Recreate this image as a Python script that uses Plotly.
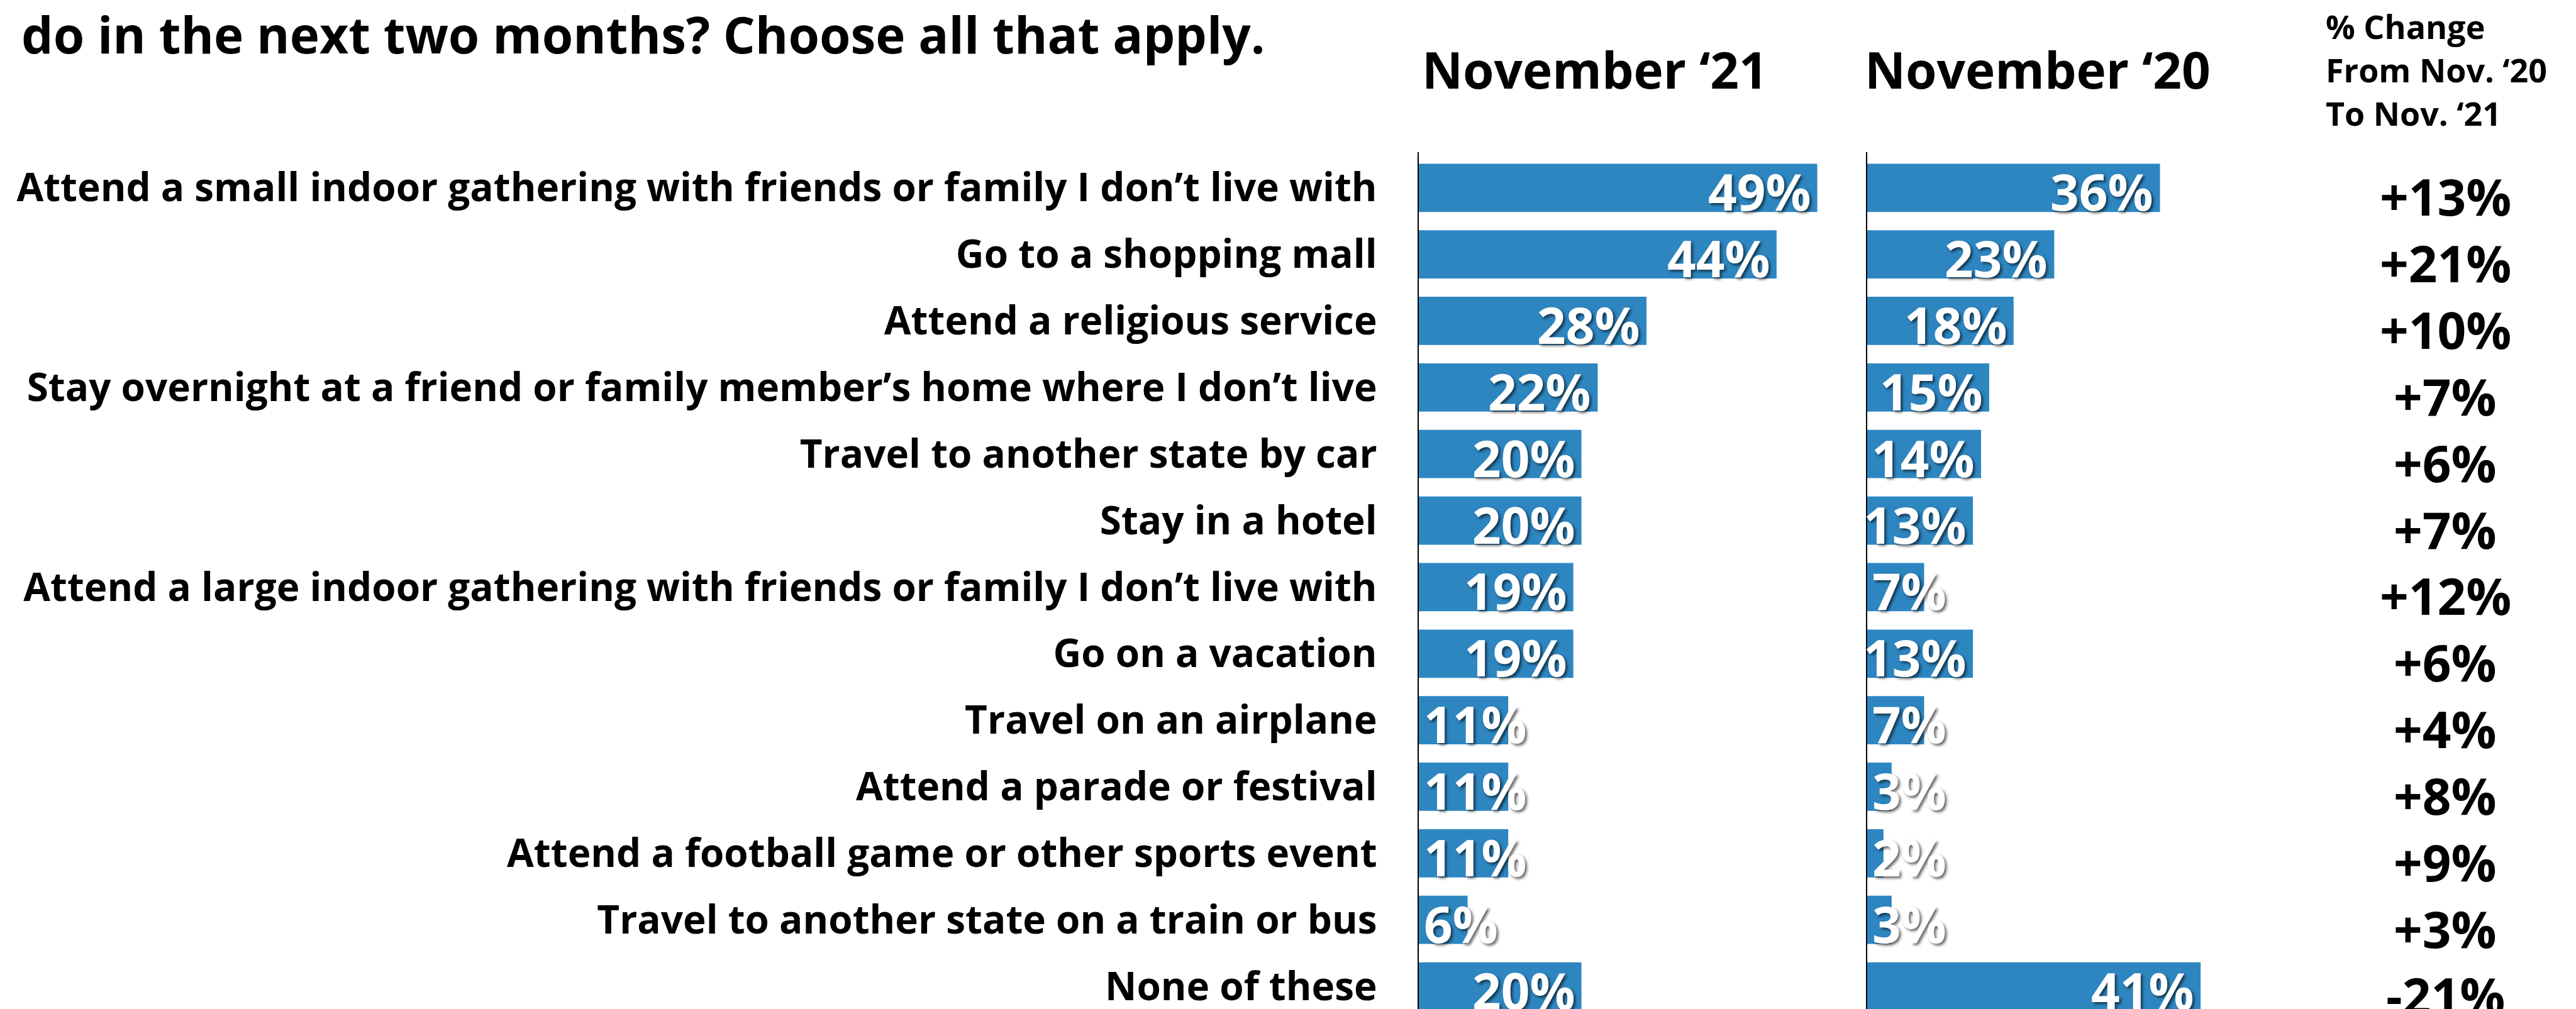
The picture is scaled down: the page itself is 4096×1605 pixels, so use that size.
import plotly.graph_objects as go

# ---------------- data ----------------
categories = [
    "Attend a small indoor gathering with friends or family I don’t live with",
    "Go to a shopping mall",
    "Attend a religious service",
    "Stay overnight at a friend or family member’s home where I don’t live",
    "Travel to another state by car",
    "Stay in a hotel",
    "Attend a large indoor gathering with friends or family I don’t live with",
    "Go on a vacation",
    "Travel on an airplane",
    "Attend a parade or festival",
    "Attend a football game or other sports event",
    "Travel to another state on a train or bus",
    "None of these",
]
nov21 = [49, 44, 28, 22, 20, 20, 19, 19, 11, 11, 11, 6, 20]
nov20 = [36, 23, 18, 15, 14, 13, 7, 13, 7, 3, 2, 3, 41]
pct_change = [13, 21, 10, 7, 6, 7, 12, 6, 4, 8, 9, 3, -21]

title_text = "do in the next two months? Choose all that apply."
header21 = "November ‘21"
header20 = "November ‘20"
change_header = ["% Change", "From Nov. ‘20", "To Nov. ‘21"]

# ---------------- layout constants (pixels in a 4096x1605 canvas) ----------------
W, H = 4096, 1605
PX_PER_PCT = 12.93
X1_LEFT, X2_LEFT = 2248, 2961
X1_MAX, X2_MAX = 50, 42
Y_TOP = 233.6
BAR_COLOR = "#2E86C1"
FONT = "Open Sans"

def fx(p):
    return p / W

def fy(p):
    return 1 - p / H

fig = go.Figure()

fig.add_trace(go.Bar(
    x=nov21, y=categories, orientation="h", xaxis="x", yaxis="y",
    marker=dict(color=BAR_COLOR, line=dict(width=0)), width=0.725,
    hoverinfo="skip", showlegend=False,
))
fig.add_trace(go.Bar(
    x=nov20, y=categories, orientation="h", xaxis="x2", yaxis="y2",
    marker=dict(color=BAR_COLOR, line=dict(width=0)), width=0.725,
    hoverinfo="skip", showlegend=False,
))

annotations = []
SHADOW = "3px 3px 4px rgba(0,0,0,0.6)"
THRESH = 12
for xref, yref, vals in (("x", "y", nov21), ("x2", "y2", nov20)):
    for cat, v in zip(categories, vals):
        if v >= THRESH:
            ax, anchor, shift = v, "right", -8
        else:
            ax, anchor, shift = 0, "left", 6
        annotations.append(dict(
            x=ax, y=cat, xref=xref, yref=yref, text=f"{v}%", showarrow=False,
            xanchor=anchor, yanchor="middle", xshift=shift, yshift=-5,
            font=dict(family=FONT, size=80, color="white", weight="bold", shadow=SHADOW),
        ))

# % change column
for cat, c in zip(categories, pct_change):
    annotations.append(dict(
        x=fx(3880), y=cat, xref="paper", yref="y",
        text=(f"+{c}%" if c > 0 else f"{c}%"), showarrow=False,
        xanchor="center", yanchor="middle", yshift=-13,
        font=dict(family=FONT, size=80, color="black", weight="bold"),
    ))

# headers
annotations.append(dict(x=fx(2251), y=fy(102), xref="paper", yref="paper", text=header21,
                        showarrow=False, xanchor="left", yanchor="middle",
                        font=dict(family=FONT, size=80, color="black", weight="bold")))
annotations.append(dict(x=fx(2955), y=fy(102), xref="paper", yref="paper", text=header20,
                        showarrow=False, xanchor="left", yanchor="middle",
                        font=dict(family=FONT, size=80, color="black", weight="bold")))
for i, line in enumerate(change_header):
    annotations.append(dict(x=fx(3688), y=fy(34 + i * 68.7), xref="paper", yref="paper",
                            text=line, showarrow=False, xanchor="left", yanchor="middle",
                            font=dict(family=FONT, size=52, color="black", weight="bold")))

# title fragment
annotations.append(dict(x=fx(24), y=fy(45), xref="paper", yref="paper", text=title_text,
                        showarrow=False, xanchor="left", yanchor="middle",
                        font=dict(family=FONT, size=80, color="black", weight="bold")))

ydom = [0, fy(Y_TOP)]
yrange = [12.415, -0.54]

fig.update_layout(
    width=W, height=H,
    margin=dict(l=0, r=0, t=0, b=0, autoexpand=False),
    paper_bgcolor="white", plot_bgcolor="white",
    showlegend=False,
    xaxis=dict(domain=[fx(X1_LEFT), fx(X1_LEFT + X1_MAX * PX_PER_PCT)], range=[0, X1_MAX],
               visible=False, fixedrange=True, automargin=False),
    xaxis2=dict(domain=[fx(X2_LEFT), fx(X2_LEFT + X2_MAX * PX_PER_PCT)], range=[0, X2_MAX],
                visible=False, fixedrange=True, automargin=False),
    yaxis=dict(domain=ydom, range=yrange, anchor="x", type="category",
               categoryorder="array", categoryarray=categories, automargin=False,
               showline=True, linecolor="black", linewidth=2, showgrid=False, zeroline=False,
               ticks="", ticklabelstandoff=52,
               tickfont=dict(family=FONT, size=62, color="black", weight="bold")),
    yaxis2=dict(domain=ydom, range=yrange, anchor="x2", type="category",
                categoryorder="array", categoryarray=categories, automargin=False,
                showline=True, linecolor="black", linewidth=2, showgrid=False, zeroline=False,
                ticks="", showticklabels=False),
    annotations=annotations,
)

fig.write_html("out.html")
